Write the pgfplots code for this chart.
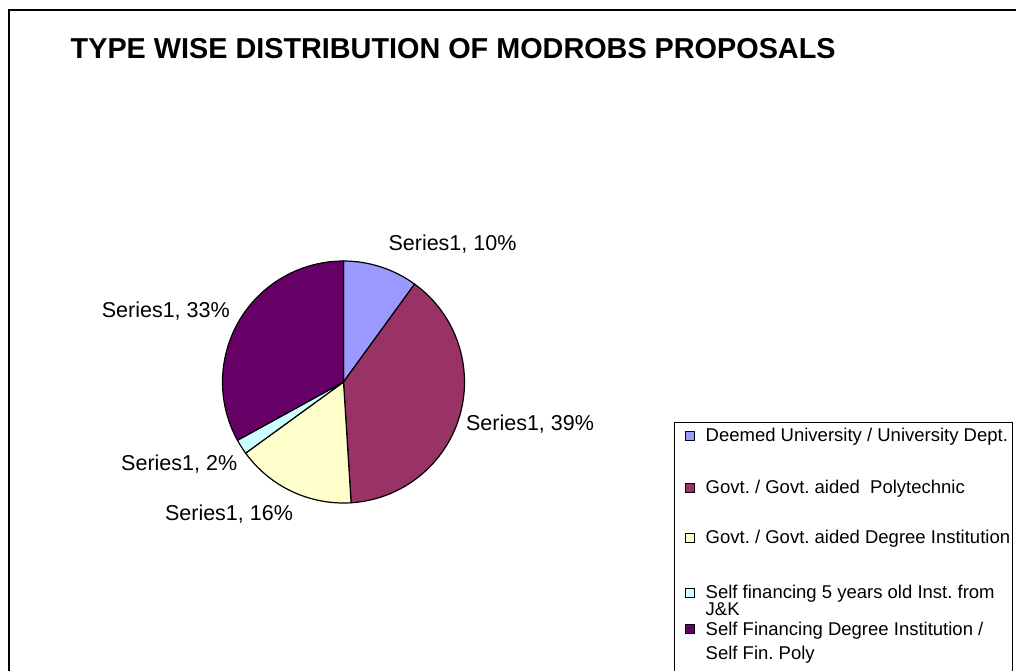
\documentclass[border=0pt]{standalone}
\usepackage{pgfplots}
\pgfplotsset{compat=1.18}
\usepackage{fontspec}
\setmainfont{Liberation Sans}
\frenchspacing

% Excel 2003 palette
\definecolor{pieA}{HTML}{9999FF}
\definecolor{pieB}{HTML}{993366}
\definecolor{pieC}{HTML}{FFFFCC}
\definecolor{pieD}{HTML}{CCFFFF}
\definecolor{pieE}{HTML}{660066}

\newcommand{\legtext}[2]{\parbox[t][#1][t]{305pt}{\strut #2}}

\begin{document}
\begin{tikzpicture}
\useasboundingbox (0,0) rectangle (1016pt,670pt);
\clip (0,0) rectangle (1016pt,670pt);
\begin{axis}[
  at={(0pt,0pt)}, anchor=south west,
  scale only axis, width=1016pt, height=670pt,
  xmin=0, xmax=1016, ymin=0, ymax=670, y dir=reverse,
  hide axis, clip=false,
  legend style={at={(axis cs:674,421.7)}, anchor=north west,
    draw=black, line width=0.8pt,
    inner xsep=2pt, inner ysep=5pt,
    font=\fontsize{18.5}{20}\selectfont,
    nodes={inner sep=0pt, text depth=}, cells={anchor=north west},
    row sep=0pt, column sep=11pt},
  legend image code/.code={
    \path[draw=none, fill=none] (0pt,0pt) -- (18pt,0pt);
    \draw[#1, draw=black, line width=0.6pt] (9pt,-4pt) rectangle (18pt,-13pt);
  },
]

% outer chart frame
\draw[line width=1.5pt] (axis cs:9,700) -- (axis cs:9,10) -- (axis cs:1030,10);

\node[anchor=base west, inner sep=0pt, font=\fontsize{28.8}{34}\selectfont\bfseries]
  at (axis cs:70.5,58.3) {TYPE WISE DISTRIBUTION OF MODROBS PROPOSALS};

% pie: share (%), colour, label position
\pgfplotsextra{
  \gdef\a{90}
  \foreach \p/\c/\lx/\ly in {10/pieA/452.5/250, 39/pieB/530/430,
                             16/pieC/229/520, 2/pieD/179.2/470,
                             33/pieE/165.8/317} {
    \pgfmathsetmacro\b{\a-3.6*\p}
    \filldraw[fill=\c, draw=black, line width=1.2pt]
      (axis cs:343.5,382) -- ++(\a:121pt)
      arc[start angle=\a, end angle=\b, radius=121pt] -- cycle;
    \node[anchor=base, inner sep=0pt, font=\fontsize{21.5}{25}\selectfont]
      at (axis cs:\lx,\ly) {Series1, \p\%};
    \global\let\a\b
  }
}

\addlegendimage{fill=pieA}
\addlegendentry{\legtext{52pt}{Deemed University / University Dept.}}
\addlegendimage{fill=pieB}
\addlegendentry{\legtext{49pt}{Govt. / Govt. aided~ Polytechnic}}
\addlegendimage{fill=pieC}
\addlegendentry{\legtext{55pt}{Govt. / Govt. aided Degree Institution}}
\addlegendimage{fill=pieD}
\addlegendentry{\legtext{36pt}{Self financing 5 years old Inst. from\\[-3pt]J\&K}}
\addlegendimage{fill=pieE}
\addlegendentry{\legtext{45pt}{Self Financing Degree Institution /\\[4pt]Self Fin. Poly}}

\end{axis}
\end{tikzpicture}
\end{document}
